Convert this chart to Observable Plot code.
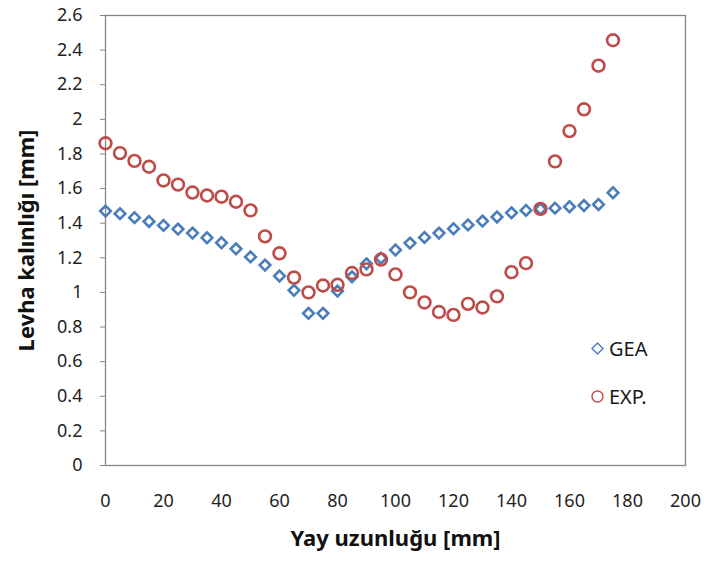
<!DOCTYPE html>
<html><head><meta charset="utf-8">
<script src="https://cdn.jsdelivr.net/npm/d3@7"></script>
<script src="https://cdn.jsdelivr.net/npm/@observablehq/plot@0.6"></script>
<style>
body{margin:0;background:#fff;}
#wrap{position:relative;width:704px;height:563px;font-family:"Noto Sans",sans-serif;}
.leg{position:absolute;display:flex;align-items:center;font-size:20px;color:#1a1a1a;}
.leg svg{margin-right:4px;}
</style>
</head><body><div id="wrap"></div>
<script>
const xPos = [0,5,10,15,20,25,30,35,40,45,50,55,60,65,70,75,80,85,90,95,100,105,110,115,120,125,130,135,140,145,150,155,160,165,170,175];
const gea = [1.47,1.455,1.432,1.41,1.387,1.366,1.343,1.316,1.287,1.252,1.205,1.158,1.095,1.012,0.879,0.879,1.008,1.09,1.165,1.198,1.245,1.285,1.318,1.343,1.368,1.39,1.412,1.436,1.46,1.474,1.482,1.487,1.495,1.502,1.508,1.576];
const exp = [1.862,1.805,1.76,1.726,1.647,1.623,1.577,1.56,1.553,1.524,1.474,1.324,1.226,1.086,1.0,1.04,1.044,1.112,1.133,1.19,1.104,1.0,0.942,0.887,0.87,0.934,0.913,0.977,1.117,1.169,1.483,1.757,1.932,2.058,2.31,2.457];
const xTicks = [0,20,40,60,80,100,120,140,160,180,200];
const yTicks = [0,0.2,0.4,0.6,0.8,1,1.2,1.4,1.6,1.8,2,2.2,2.4,2.6];
const yTickLabels = ["0","0.2","0.4","0.6","0.8","1","1.2","1.4","1.6","1.8","2","2.2","2.4","2.6"];
const seriesNames = ["GEA","EXP."];
const xLabel = "Yay uzunluğu [mm]";
const yLabel = "Levha kalınlığı [mm]";
const colors = {GEA:"#4a7ebb", "EXP.":"#be4b48"};

const data = [];
xPos.forEach((x,i)=>{ data.push({x, y:gea[i], s:"GEA"}); });
xPos.forEach((x,i)=>{ data.push({x, y:exp[i], s:"EXP."}); });

const chart = Plot.plot({
  width:704, height:563,
  marginLeft:105, marginRight:19, marginTop:15, marginBottom:98,
  style:{fontFamily:"Noto Sans, sans-serif", fontSize:"18px", color:"#1f1f1f", background:"#fff"},
  x:{domain:[0,200]},
  y:{domain:[0,2.6]},
  marks:[
    Plot.axisY({ticks:yTicks, tickFormat:(d)=>yTickLabels[yTicks.indexOf(d)], tickSize:5, tickPadding:18, stroke:"#868686", fontSize:18, label:null}),
    Plot.axisX({ticks:xTicks, tickFormat:d=>String(d), tickSize:0, tickPadding:29, fontSize:18, label:null}),
    Plot.frame({stroke:"#868686", strokeWidth:1.3}),
    Plot.dot(data.filter(d=>d.s==="GEA"), {x:"x", y:"y", symbol:"diamond2", r:4.8, stroke:colors.GEA, strokeWidth:2.6, fill:"none"}),
    Plot.dot(data.filter(d=>d.s==="EXP."), {x:"x", y:"y", symbol:"circle", r:5.9, stroke:colors["EXP."], strokeWidth:2.6, fill:"none"}),
    Plot.text([xLabel], {frameAnchor:"bottom", dy:80, text:d=>d, fontWeight:"bold", fontSize:22, fill:"#111"}),
    Plot.text([yLabel], {frameAnchor:"left", dx:-79, rotate:-90, textAnchor:"middle", text:d=>d, fontWeight:"bold", fontSize:22, fill:"#111"})
  ]
});
const wrap = document.getElementById("wrap");
wrap.appendChild(chart);

const legPos = [{left:590, top:335}, {left:590, top:383}];
seriesNames.forEach((name,i)=>{
  const div = document.createElement("div");
  div.className = "leg";
  div.style.left = legPos[i].left+"px";
  div.style.top = legPos[i].top+"px";
  const sym = name==="GEA"
    ? `<svg width="15" height="15"><path d="M7.5,2L13,7.5L7.5,13L2,7.5Z" fill="none" stroke="${colors[name]}" stroke-width="1.4"/></svg>`
    : `<svg width="15" height="15"><circle cx="7.5" cy="7.5" r="5.5" fill="none" stroke="${colors[name]}" stroke-width="1.4"/></svg>`;
  div.innerHTML = sym + `<span>${name}</span>`;
  wrap.appendChild(div);
});
</script>
</body></html>
